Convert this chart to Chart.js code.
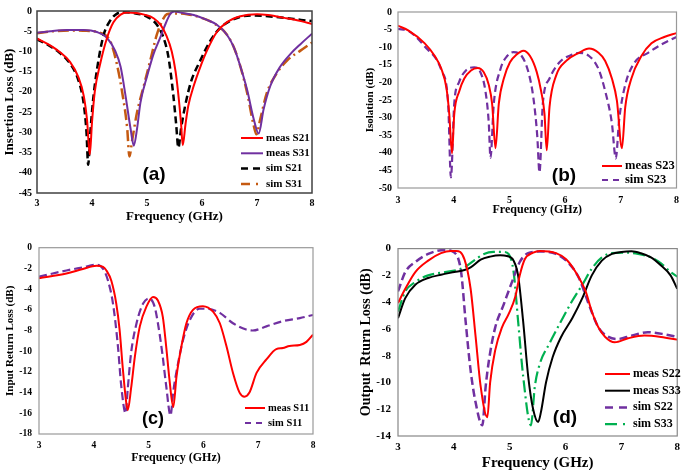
<!DOCTYPE html>
<html>
<head>
<meta charset="utf-8">
<script src="https://cdn.jsdelivr.net/npm/chart.js@4"></script>
<style>
html,body{margin:0;padding:0;background:#fff;}
#wrap{position:relative;width:685px;height:470px;overflow:hidden;background:#fff;}
canvas{position:absolute;}
</style>
</head>
<body>
<div id="wrap">
<canvas id="ca" width="342" height="235" style="left:0;top:0;"></canvas>
<canvas id="cb" width="343" height="235" style="left:342px;top:0;"></canvas>
<canvas id="cc" width="342" height="235" style="left:0;top:235px;"></canvas>
<canvas id="cd" width="343" height="235" style="left:342px;top:235px;"></canvas>
</div>
<script>
// ---------- DATA (frequency GHz, dB) ----------
const freqTicks = [3, 4, 5, 6, 7, 8];

// (a) Insertion loss
const aMeasS21 = [[3.0,-6.8],[3.2,-8.2],[3.4,-10],[3.6,-12.6],[3.75,-16.3],[3.85,-21],[3.91,-27],[3.96,-35.5],[4.0,-27.5],[4.05,-20],[4.15,-13],[4.27,-6.8],[4.39,-2.8],[4.52,-0.9],[4.64,-0.4],[4.8,-0.5],[4.95,-0.9],[5.12,-1.8],[5.25,-3.5],[5.35,-6],[5.45,-10],[5.52,-15],[5.58,-22],[5.62,-28],[5.65,-33.2],[5.7,-28],[5.75,-23.5],[5.85,-18.5],[5.97,-13.8],[6.09,-9.8],[6.27,-5.2],[6.45,-2.8],[6.7,-1.3],[7.0,-0.8],[7.2,-1.0],[7.5,-1.7],[7.8,-2.5],[8.0,-3.2]];
const aMeasS31 = [[3.0,-5.4],[3.24,-5.0],[3.55,-4.7],[3.85,-4.7],[4.09,-5.2],[4.27,-6.6],[4.42,-9.8],[4.52,-13.8],[4.61,-21],[4.7,-29],[4.76,-33.3],[4.82,-29],[4.88,-22.7],[5.0,-16.2],[5.12,-10.6],[5.24,-6.6],[5.33,-3.4],[5.42,-0.8],[5.5,-0.1],[5.61,-0.4],[5.85,-1.0],[6.09,-2.2],[6.27,-3.4],[6.45,-5.8],[6.58,-9],[6.7,-13.8],[6.82,-19.5],[6.94,-26.7],[7.03,-30.3],[7.12,-24.3],[7.24,-18.6],[7.42,-13.8],[7.61,-10.6],[7.79,-8.2],[8.0,-5.6]];
const aSimS21 = [[3.0,-7.0],[3.2,-8.4],[3.4,-10.2],[3.6,-13],[3.75,-17],[3.85,-23],[3.9,-30],[3.93,-38],[3.97,-30],[4.02,-22],[4.09,-14.5],[4.21,-6],[4.33,-2.4],[4.45,-0.7],[4.58,-0.3],[4.75,-0.5],[5.0,-1.4],[5.18,-3.4],[5.3,-6.6],[5.39,-11.4],[5.48,-21],[5.53,-28],[5.57,-33.8],[5.62,-29],[5.7,-23],[5.8,-17.5],[5.97,-12.2],[6.15,-7.4],[6.33,-4.2],[6.58,-2],[6.9,-1.1],[7.2,-1.3],[7.5,-1.7],[7.8,-2.2],[8.0,-2.5]];
const aSimS31 = [[3.0,-5.5],[3.3,-5.0],[3.6,-4.8],[3.9,-4.9],[4.15,-5.4],[4.33,-7.4],[4.45,-13],[4.55,-20.2],[4.64,-29],[4.68,-36],[4.73,-32],[4.82,-25],[4.94,-18.6],[5.06,-12.2],[5.18,-5.8],[5.3,-1.8],[5.36,-0.8],[5.48,-0.6],[5.73,-0.8],[5.97,-1.6],[6.21,-3.0],[6.45,-5.8],[6.58,-9],[6.7,-13.8],[6.82,-20.2],[6.94,-28.3],[6.99,-30.5],[7.06,-26.7],[7.18,-20.2],[7.36,-15.4],[7.55,-12.2],[7.79,-9.8],[8.0,-7.8]];

// (b) Isolation
const bMeasS23 = [[3.0,-3.9],[3.19,-5.3],[3.48,-8.9],[3.66,-12.5],[3.78,-16.2],[3.87,-21.6],[3.92,-28.9],[3.97,-40.2],[4.01,-29],[4.1,-22.5],[4.19,-18.9],[4.31,-16.6],[4.43,-15.9],[4.54,-17.1],[4.63,-20.7],[4.69,-26.1],[4.75,-38.7],[4.81,-26],[4.9,-18.9],[5.01,-14.3],[5.13,-12.1],[5.25,-11],[5.37,-12.5],[5.49,-17],[5.57,-22.5],[5.63,-28.9],[5.67,-39.3],[5.72,-27],[5.84,-18],[6.02,-13.9],[6.25,-11.6],[6.43,-10.4],[6.6,-11.6],[6.72,-13.9],[6.84,-18.9],[6.93,-25.2],[7.02,-38.7],[7.08,-27],[7.19,-18.9],[7.37,-12.5],[7.55,-8.9],[7.78,-7.1],[8.0,-6.0]];
const bSimS23 = [[3.0,-4.8],[3.19,-5.4],[3.48,-9.8],[3.78,-16.6],[3.9,-26],[3.95,-47],[4.01,-26],[4.1,-19.8],[4.22,-16.6],[4.37,-15.7],[4.48,-17.1],[4.57,-22.5],[4.63,-31.6],[4.66,-41.4],[4.72,-26],[4.84,-16.2],[4.96,-12.5],[5.07,-11.4],[5.22,-12.5],[5.34,-17],[5.43,-24.3],[5.5,-35.2],[5.54,-45.6],[5.6,-26],[5.72,-18.9],[5.9,-14.3],[6.13,-12.1],[6.25,-11.6],[6.43,-12.5],[6.6,-16.2],[6.72,-22.5],[6.84,-31.6],[6.91,-41.6],[6.97,-30.7],[7.08,-20.7],[7.25,-14.3],[7.49,-11.6],[7.72,-9.3],[8.0,-7.1]];

// (c) Input return loss
const cMeasS11 = [[3.0,-2.95],[3.5,-2.5],[3.8,-2.06],[4.05,-1.75],[4.17,-1.85],[4.23,-2.2],[4.32,-3.2],[4.41,-5.4],[4.47,-7.9],[4.53,-11.7],[4.59,-14.9],[4.62,-15.7],[4.68,-13.6],[4.75,-10.5],[4.84,-7.6],[4.96,-5.7],[5.08,-4.76],[5.17,-5.1],[5.26,-6.7],[5.32,-9.5],[5.38,-12.7],[5.45,-15.4],[5.51,-12.4],[5.6,-9.5],[5.69,-7.3],[5.81,-6.0],[5.99,-5.65],[6.18,-6.2],[6.3,-7.3],[6.42,-9.5],[6.54,-12.1],[6.66,-14.0],[6.75,-14.4],[6.84,-14.0],[6.97,-12.1],[7.15,-10.8],[7.33,-9.8],[7.45,-9.7],[7.57,-9.5],[7.76,-9.4],[7.88,-9.1],[8.0,-8.4]];
const cSimS11 = [[3.0,-2.8],[3.5,-2.2],[3.8,-1.9],[4.05,-1.65],[4.17,-2.05],[4.26,-3.2],[4.35,-5.4],[4.44,-9.5],[4.5,-13.3],[4.58,-16.0],[4.62,-13.6],[4.68,-10.2],[4.78,-7.3],[4.9,-5.4],[5.01,-4.9],[5.11,-5.7],[5.17,-7.3],[5.25,-10.2],[5.32,-13.3],[5.4,-16.2],[5.45,-13.9],[5.54,-11.1],[5.63,-8.9],[5.75,-7.0],[5.93,-5.9],[6.08,-5.9],[6.3,-6.3],[6.54,-7.3],[6.78,-7.9],[6.9,-8.0],[7.15,-7.6],[7.45,-7.1],[7.76,-6.8],[8.0,-6.5]];

// (d) Output return loss
const dMeasS22 = [[3.0,-4.07],[3.13,-3.0],[3.31,-1.75],[3.54,-0.9],[3.77,-0.34],[3.95,-0.17],[4.04,-0.17],[4.19,-0.8],[4.3,-3.0],[4.39,-6.6],[4.48,-10.3],[4.6,-12.6],[4.65,-10.0],[4.74,-7.6],[4.86,-5.9],[4.98,-4.9],[5.1,-3.6],[5.18,-2.0],[5.27,-0.8],[5.42,-0.3],[5.54,-0.17],[5.83,-0.34],[6.01,-0.8],[6.18,-1.75],[6.36,-3.2],[6.47,-4.7],[6.59,-5.9],[6.71,-6.6],[6.88,-7.0],[7.12,-6.7],[7.41,-6.5],[7.71,-6.6],[8.0,-6.8]];
const dMeasS33 = [[3.0,-5.2],[3.13,-3.7],[3.31,-2.7],[3.54,-2.2],[3.77,-1.95],[4.01,-1.75],[4.19,-1.6],[4.3,-1.4],[4.48,-0.83],[4.65,-0.6],[4.83,-0.5],[4.95,-0.55],[5.07,-0.9],[5.15,-2.0],[5.24,-5.4],[5.33,-9.5],[5.42,-12.0],[5.51,-12.95],[5.56,-12.2],[5.65,-10.0],[5.77,-8.1],[5.92,-6.6],[6.12,-5.2],[6.3,-3.7],[6.47,-2.0],[6.65,-0.9],[6.83,-0.4],[7.0,-0.25],[7.18,-0.2],[7.35,-0.35],[7.53,-0.66],[7.71,-1.27],[7.88,-2.0],[8.0,-3.0]];
const dSimS22 = [[3.0,-3.2],[3.13,-1.75],[3.31,-1.0],[3.54,-0.4],[3.83,-0.1],[4.01,-0.3],[4.13,-1.75],[4.21,-5.4],[4.3,-9.1],[4.39,-11.5],[4.51,-13.2],[4.57,-10.3],[4.63,-8.3],[4.74,-5.9],[4.89,-4.2],[5.04,-2.5],[5.18,-1.0],[5.33,-0.34],[5.54,-0.22],[5.83,-0.4],[6.06,-1.1],[6.24,-2.2],[6.42,-4.2],[6.59,-5.9],[6.77,-6.6],[6.94,-6.75],[7.18,-6.5],[7.47,-6.25],[7.77,-6.4],[8.0,-6.6]];
const dSimS33 = [[3.0,-4.7],[3.13,-3.2],[3.31,-2.5],[3.54,-2.0],[3.77,-1.8],[4.01,-1.65],[4.19,-1.4],[4.36,-0.9],[4.54,-0.4],[4.71,-0.25],[4.89,-0.25],[4.98,-0.4],[5.07,-1.75],[5.15,-5.4],[5.24,-9.5],[5.38,-13.2],[5.45,-10.3],[5.54,-8.6],[5.71,-7.1],[5.89,-5.65],[6.12,-3.9],[6.3,-2.7],[6.47,-1.5],[6.65,-0.66],[6.83,-0.34],[7.06,-0.3],[7.3,-0.4],[7.53,-0.66],[7.71,-1.1],[7.88,-1.75],[8.0,-2.1]];

// ---------- RENDERING ----------
const SERIF = "'Liberation Serif', 'Times New Roman', serif";
const SANS = "'Liberation Sans', Arial, sans-serif";
Chart.defaults.color = '#000';
Chart.defaults.animation = false;

function pts(a){ return a.map(p => ({x: p[0], y: p[1]})); }
function ds(label, arr, color, width, dash){
  return {label, data: pts(arr), borderColor: color, backgroundColor: color, borderWidth: width,
    borderDash: dash || [], pointRadius: 0, fill: false, cubicInterpolationMode: 'monotone', tension: 0.4};
}

const panelPlugin = {
  id: 'panelDeco',
  afterDatasetsDraw(chart, args, o){
    const ctx = chart.ctx, a = chart.chartArea;
    ctx.save();
    ctx.strokeStyle = o.boxColor; ctx.lineWidth = o.boxWidth;
    ctx.setLineDash([]);
    ctx.strokeRect(a.left, a.top, a.right - a.left, a.bottom - a.top);
    // legend
    chart.data.datasets.forEach((d, i) => {
      const y = o.ly + i * o.ldy;
      ctx.beginPath();
      ctx.setLineDash(o.ldash[i] || []);
      ctx.strokeStyle = d.borderColor; ctx.lineWidth = d.borderWidth;
      ctx.moveTo(o.lx, y); ctx.lineTo(o.lx + o.lw, y); ctx.stroke();
      ctx.setLineDash([]);
      ctx.fillStyle = '#000'; ctx.font = 'bold ' + o.lfont + 'px ' + SERIF;
      ctx.textBaseline = 'middle'; ctx.textAlign = 'left';
      ctx.fillText(d.label, o.lx + o.lw + o.lgap, y);
    });
    ctx.font = 'bold ' + o.tagSize + 'px ' + SANS;
    ctx.textAlign = 'center'; ctx.textBaseline = 'middle';
    ctx.fillText(o.tag, o.tagX, o.tagY);
    ctx.restore();
  }
};

function makePanel(id, p){
  const cv = document.getElementById(id);
  const W = cv.width, H = cv.height;
  const xh = H - p.bottom;
  const xlh = p.xTitleSize * 1.2, ylh = p.yTitleSize * 1.2;
  new Chart(cv, {
    type: 'line',
    data: {datasets: p.datasets},
    options: {
      responsive: false, animation: false, events: [],
      layout: {padding: {left: 0, top: p.top, right: W - p.right, bottom: 0}},
      plugins: {legend: {display: false}, tooltip: {enabled: false},
        panelDeco: p.deco},
      scales: {
        x: {type: 'linear', min: 3, max: 8,
          afterBuildTicks: s => { s.ticks = freqTicks.map(v => ({value: v})); },
          grid: {display: false, drawTicks: false}, border: {display: false},
          ticks: {padding: p.xTickPad, font: {family: SERIF, size: p.tickSize, weight: 'bold'}, color: '#000', maxRotation: 0},
          title: {display: true, text: 'Frequency (GHz)', color: '#000',
            font: {family: SERIF, size: p.xTitleSize, weight: 'bold'},
            padding: {top: 0, bottom: xh - (p.xTitleY - p.bottom) - xlh / 2}},
          afterFit: s => { s.height = xh; }
        },
        y: {type: 'linear', min: p.yMin, max: p.yMax,
          afterBuildTicks: s => { const t = []; for (let v = p.yMin; v <= p.yMax + 1e-9; v += p.yStep) t.push({value: v}); s.ticks = t; },
          grid: {display: false, drawTicks: false}, border: {display: false},
          ticks: {padding: p.yTickPad, font: {family: SERIF, size: p.tickSize, weight: 'bold'}, color: '#000'},
          title: {display: true, text: p.yTitle, color: '#000',
            font: {family: SERIF, size: p.yTitleSize, weight: 'bold'},
            padding: {top: p.yTitleX - ylh / 2, bottom: 0}},
          afterFit: s => { s.width = p.left; }
        }
      }
    },
    plugins: [panelPlugin]
  });
}

makePanel('ca', {
  left: 37, right: 312, top: 6, bottom: 193, yMin: -45, yMax: 0, yStep: 5,
  yTitle: 'Insertion Loss (dB)', yTitleSize: 13, yTitleX: 10, xTitleSize: 13, xTitleY: 217,
  tickSize: 10, xTickPad: 4, yTickPad: 5,
  datasets: [
    ds('meas S21', aMeasS21, '#ff0000', 2),
    ds('meas S31', aMeasS31, '#7030a0', 2),
    ds('sim S21', aSimS21, '#000000', 2.5, [7, 4]),
    ds('sim S31', aSimS31, '#c55a11', 2.5, [11, 4, 2, 4])
  ],
  deco: {boxColor: '#404040', boxWidth: 1.5, lx: 241, lw: 22, lgap: 3, ly: 138, ldy: 15.3, lfont: 11,
    ldash: [[], [], [7, 5], [9, 6, 2, 6]], tag: '(a)', tagSize: 19, tagX: 154, tagY: 175}
});

makePanel('cb', {
  left: 56, right: 339, top: 4, bottom: 188, yMin: -50, yMax: 0, yStep: 5,
  yTitle: 'Isolation (dB)', yTitleSize: 11, yTitleX: 28, xTitleSize: 12, xTitleY: 210,
  tickSize: 10, xTickPad: 6, yTickPad: 6,
  datasets: [
    ds('meas S23', bMeasS23, '#ff0000', 2),
    ds('sim S23', bSimS23, '#7030a0', 2.2, [7, 4])
  ],
  deco: {boxColor: '#999999', boxWidth: 1.2, lx: 260, lw: 20, lgap: 3, ly: 166, ldy: 14, lfont: 12.5,
    ldash: [[], [6, 5]], tag: '(b)', tagSize: 19, tagX: 222, tagY: 176}
});

makePanel('cc', {
  left: 39, right: 313, top: 10, bottom: 199, yMin: -18, yMax: 0, yStep: 2,
  yTitle: 'Input Return Loss (dB)', yTitleSize: 11, yTitleX: 10, xTitleSize: 12, xTitleY: 223,
  tickSize: 9.5, xTickPad: 6, yTickPad: 7,
  datasets: [
    ds('meas S11', cMeasS11, '#ff0000', 2),
    ds('sim S11', cSimS11, '#7030a0', 2.2, [8, 4])
  ],
  deco: {boxColor: '#999999', boxWidth: 1.2, lx: 245, lw: 20, lgap: 3, ly: 173, ldy: 15, lfont: 10.5,
    ldash: [[], [6, 5]], tag: '(c)', tagSize: 18, tagX: 153, tagY: 184}
});

makePanel('cd', {
  left: 56, right: 340, top: 9, bottom: 201, yMin: -14, yMax: 0, yStep: 2,
  yTitle: 'Output  Rturn Loss (dB)', yTitleSize: 14, yTitleX: 24, xTitleSize: 15, xTitleY: 228,
  tickSize: 11, xTickPad: 5, yTickPad: 7,
  datasets: [
    ds('meas S22', dMeasS22, '#ff0000', 2),
    ds('meas S33', dMeasS33, '#000000', 2),
    ds('sim S22', dSimS22, '#7030a0', 2.5, [8, 4]),
    ds('sim S33', dSimS33, '#00b050', 2.2, [12, 4, 2, 4])
  ],
  deco: {boxColor: '#888888', boxWidth: 1.2, lx: 263, lw: 25, lgap: 3, ly: 139, ldy: 16.7, lfont: 12,
    ldash: [[], [], [8, 6], [12, 6, 2, 6]], tag: '(d)', tagSize: 19, tagX: 223, tagY: 183}
});
</script>
</body>
</html>
